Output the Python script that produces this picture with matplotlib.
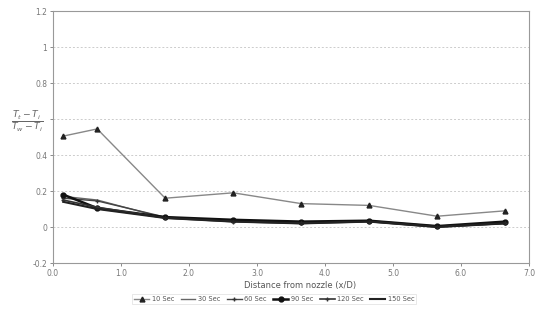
import numpy as np
import matplotlib.pyplot as plt

x = [0.15, 0.65, 1.65, 2.65, 3.65, 4.65, 5.65, 6.65]
sec10 = [0.505, 0.545, 0.16, 0.19, 0.13, 0.12, 0.06, 0.09]
sec30 = [0.17, 0.15, 0.05, 0.035, 0.025, 0.03, 0.0, 0.02]
sec60 = [0.16, 0.145, 0.055, 0.035, 0.025, 0.035, 0.005, 0.025]
sec90 = [0.18, 0.105, 0.055, 0.04, 0.03, 0.035, 0.005, 0.03]
sec120 = [0.15, 0.11, 0.05, 0.03, 0.02, 0.03, 0.0, 0.02]
sec150 = [0.14, 0.1, 0.05, 0.03, 0.02, 0.03, 0.0, 0.02]

fig = plt.figure(figsize=(5.37, 3.19), dpi=100)
ax = fig.add_axes([0.0987, 0.1755, 0.8863, 0.79])

gray = "#777777"
ax.plot(x, sec10, color="#888888", lw=1.0, marker="^", ms=3.5, mfc="#222222", mec="#222222", label="10 Sec")
ax.plot(x, sec30, color="#666666", lw=1.0, label="30 Sec")
ax.plot(x, sec60, color="#444444", lw=1.0, marker="+", ms=3.5, mec="#333333", label="60 Sec")
ax.plot(x, sec90, color="#111111", lw=1.8, marker="o", ms=3.5, mfc="#111111", label="90 Sec")
ax.plot(x, sec120, color="#333333", lw=1.2, marker="+", ms=3.5, label="120 Sec")
ax.plot(x, sec150, color="#222222", lw=1.5, label="150 Sec")

ax.set_xlim(0, 7)
ax.set_ylim(-0.2, 1.2)
ax.set_xticks(np.arange(0, 8))
ax.set_xticklabels(["%.1f" % v for v in range(8)])
ax.set_yticks([-0.2, 0, 0.2, 0.4, 0.6, 0.8, 1.0, 1.2])
ax.set_yticklabels(["-0.2", "0", "0.2", "0.4", "", "0.8", "1", "1.2"])
ax.tick_params(labelsize=5.5, colors=gray, length=2, width=0.6, pad=2)
ax.yaxis.grid(True, color="#cccccc", linestyle=(0, (2, 2)), lw=0.7)
ax.set_axisbelow(True)
for s in ax.spines.values():
    s.set_color("#999999")
    s.set_linewidth(0.8)

ax.set_xlabel("Distance from nozzle (x/D)", fontsize=6, color="#555555")
ax.xaxis.set_label_coords(0.52, -0.07)
fig.text(0.05, 0.615, r"$\frac{T_t - T_i}{T_w - T_i}$", fontsize=9.5, color="#666666",
         ha="center", va="center")

leg = ax.legend(loc="upper center", bbox_to_anchor=(0.465, -0.11), ncol=6, fontsize=4.8,
                frameon=True, handlelength=2.2, columnspacing=1.0, handletextpad=0.4,
                borderpad=0.3, fancybox=False, labelcolor="#555555")
leg.get_frame().set_edgecolor("#dddddd")
leg.get_frame().set_linewidth(0.6)

fig.savefig("out.png", dpi=100)
